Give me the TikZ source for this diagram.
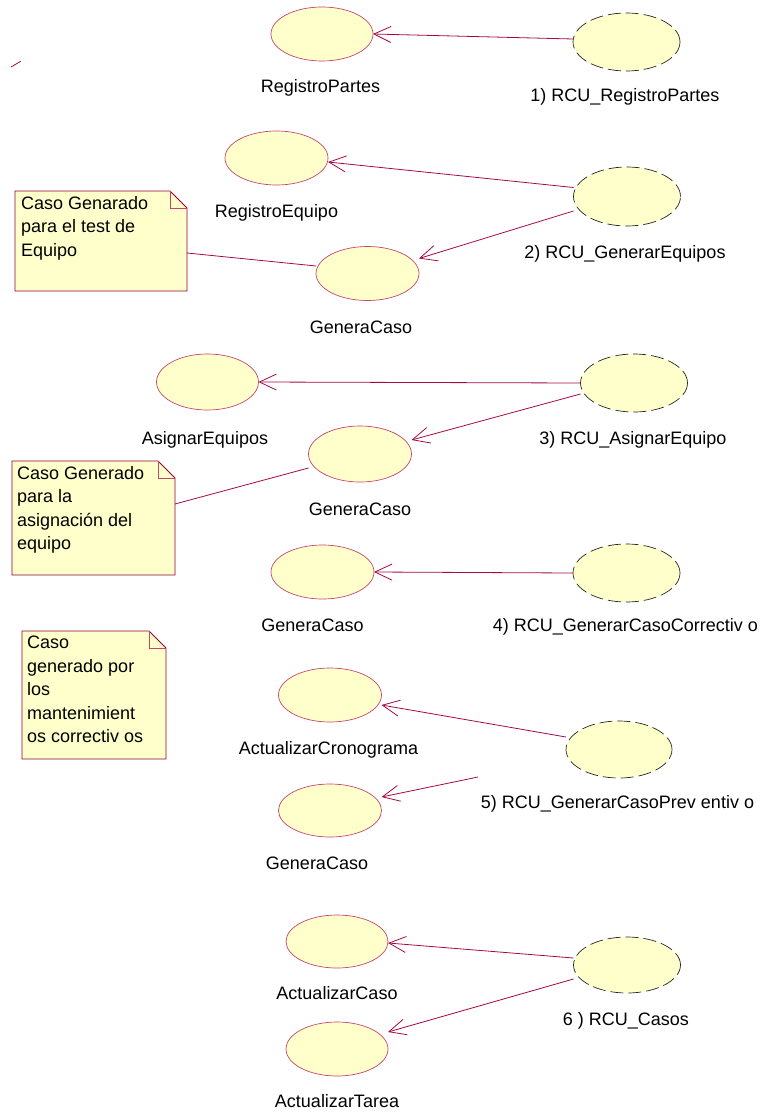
\documentclass[tikz,border=0pt]{standalone}
\usepackage{fontspec}
\setmainfont{Liberation Sans}
\usetikzlibrary{arrows.meta,shapes.geometric,calc}
\definecolor{ucfill}{RGB}{255,255,204}
\definecolor{ucline}{RGB}{196,70,110}
\definecolor{conn}{RGB}{165,10,70}
\definecolor{noteline}{RGB}{150,0,50}
\definecolor{foldline}{RGB}{196,70,110}
\begin{document}
\begin{tikzpicture}[x=1pt,y=-1pt,
  uc/.style={ellipse, draw=ucline, fill=ucfill, line width=0.7pt, minimum width=103pt, minimum height=54pt, inner sep=0pt, outer sep=0pt},
  rcu/.style={ellipse, draw=black!85, fill=ucfill, line width=0.7pt, dash pattern=on 13pt off 5pt, minimum width=107pt, minimum height=58pt, inner sep=0pt, outer sep=0pt},
  lbl/.style={font=\fontsize{18}{22}\selectfont, anchor=base, inner sep=0pt},
  assoc/.style={draw=conn, line width=0.8pt, -{Straight Barb[length=17pt,width=16pt,line width=0.8pt]}},
  anchorline/.style={draw=conn, line width=0.8pt},
  notebg/.style={draw=none, inner sep=0pt, outer sep=0pt, anchor=north west},
  notebody/.style={draw=noteline, fill=ucfill, line width=0.9pt},
  notefold/.style={draw=foldline, line width=0.7pt},
  notetext/.style={font=\fontsize{18}{23.5}\selectfont, align=left, anchor=north west, inner sep=0pt}
]
\useasboundingbox (0,0) rectangle (763,1113);

% stray fragment
\coordinate (s1) at (11,67);
\coordinate (s2) at (20.7,61.3);
\draw[anchorline] (s1) -- (s2);

% notes
\node[notebg, minimum width=172pt, minimum height=100pt] (note1) at (15,191) {};
\node[notebg, minimum width=163pt, minimum height=114pt] (note2) at (12,461) {};
\node[notebg, minimum width=144pt, minimum height=128pt] (note3) at (22,631) {};
\foreach \n in {note1,note2,note3}{
  \path[notebody] (\n.north west) -- ([xshift=-17pt]\n.north east) -- ([yshift=-17pt]\n.north east) -- (\n.south east) -- (\n.south west) -- cycle;
  \draw[notefold] ([xshift=-17pt]\n.north east) |- ([yshift=-17pt]\n.north east);
}
\node[notetext] (note1t) at (21,196) {Caso Genarado\\para el test de\\Equipo};
\node[notetext] (note2t) at (17,466) {Caso Generado\\para la\\asignación del\\equipo};
\node[notetext] (note3t) at (27,636) {Caso\\generado por\\los\\mantenimient\\os correctiv os};

% use cases
\node[uc, minimum width=102pt] (rp) at (322,34) {};
\node[rcu] (rcu1) at (626.5,42) {};
\node[uc] (re) at (276.5,158) {};
\node[rcu, minimum height=59pt] (rcu2) at (627,196.5) {};
\node[uc] (gc1) at (367.5,273.5) {};
\node[uc, minimum width=102pt, minimum height=56pt] (ae) at (207.5,382) {};
\node[rcu] (rcu3) at (634,383) {};
\node[uc, minimum height=56pt] (gc2) at (360,454) {};
\node[uc] (gc4) at (322.5,572) {};
\node[rcu] (rcu4) at (626.5,573) {};
\node[uc] (ac) at (330,695) {};
\node[rcu, minimum width=106pt, minimum height=57pt] (rcu5) at (619,749.5) {};
\node[uc, minimum height=53pt] (gc5) at (330,810.5) {};
\node[uc, minimum width=102pt, minimum height=53pt] (aca) at (337,941.5) {};
\node[rcu, minimum height=56pt] (rcu6) at (627,965) {};
\node[uc, minimum width=102pt] (at) at (337,1049) {};

% labels
\node[lbl] (rpl) at (320.5,93) {RegistroPartes};
\node[lbl] (rcu1l) at (625,102) {1) RCU\_RegistroPartes};
\node[lbl] (rel) at (276.5,217) {RegistroEquipo};
\node[lbl] (rcu2l) at (625,258) {2) RCU\_GenerarEquipos};
\node[lbl] (gc1l) at (361,333) {GeneraCaso};
\node[lbl] (ael) at (205,444) {AsignarEquipos};
\node[lbl] (rcu3l) at (633,444) {3) RCU\_AsignarEquipo};
\node[lbl] (gc2l) at (360,515) {GeneraCaso};
\node[lbl] (gc4l) at (312.5,631) {GeneraCaso};
\node[lbl] (rcu4l) at (625.5,631) {4) RCU\_GenerarCasoCorrectiv o};
\node[lbl] (acl) at (328.5,754) {ActualizarCronograma};
\node[lbl] (rcu5l) at (617.5,808) {5) RCU\_GenerarCasoPrev entiv o};
\node[lbl] (gc5l) at (317,869) {GeneraCaso};
\node[lbl] (acal) at (337,999) {ActualizarCaso};
\node[lbl] (rcu6l) at (626,1025) {6 ) RCU\_Casos};
\node[lbl] (atl) at (337,1107) {ActualizarTarea};

% connectors
\draw[assoc] ($(rcu1.west)+(0,-3)$) -- (rp.east);
\draw[assoc] ($(rcu2.west)+(0,-9)$) -- ($(re.east)+(0,4)$);
\draw[assoc] ($(rcu2.west)+(0,14.5)$) -- ($(gc1.east)+(0,-15)$);
\draw[anchorline] ($(note1.east)+(0,12)$) -- ($(gc1.west)+(0,-7.5)$);
\draw[assoc] (rcu3.west) -- (ae.east);
\draw[assoc] ($(rcu3.west)+(0,11)$) -- ($(gc2.east)+(0,-14)$);
\draw[anchorline] ($(note2.east)+(0,-14)$) -- ($(gc2.west)+(0,14)$);
\draw[assoc] (rcu4.west) -- (gc4.east);
\draw[assoc] ($(rcu5.west)+(0,-12.5)$) -- ($(ac.east)+(0,10)$);
\coordinate (free5) at (478,777);
\draw[assoc] (free5) -- ($(gc5.east)+(0,-13.5)$);
\draw[assoc] ($(rcu6.west)+(0,-7)$) -- ($(aca.east)+(0,1.5)$);
\draw[assoc] ($(rcu6.west)+(0,14)$) -- ($(at.east)+(0,-17)$);
\end{tikzpicture}
\end{document}
